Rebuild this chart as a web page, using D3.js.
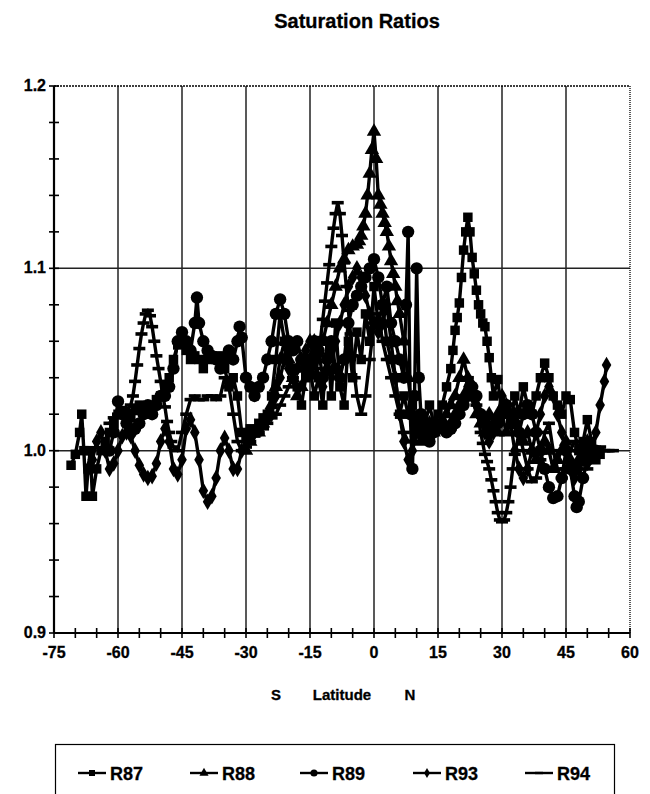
<!DOCTYPE html>
<html><head><meta charset="utf-8">
<script src="https://cdn.jsdelivr.net/npm/d3@7"></script>
<style>
body{margin:0;background:#fff;}
svg{display:block;}
text{font-family:"Liberation Sans",Arial,sans-serif;font-weight:bold;fill:#000;}
</style></head>
<body><svg id="c" width="650" height="794"></svg>
<script>
const title = "Saturation Ratios";
const xTicks = [-75,-60,-45,-30,-15,0,15,30,45,60];
const yTicks = [0.9,1.0,1.1,1.2];
const seriesNames = ["R87","R88","R89","R93","R94"];

const R87 = [[-71,0.992],[-70,0.998],[-69,1.01],[-68.5,1.02],[-68,1.0],[-67.5,0.975],[-67,0.99],[-66.5,1.0],[-66,0.975],[-65,0.99],[-64,1.0],[-63,1.005],[-62,1.01],[-61,1.015],[-60,1.02],[-59,1.022],[-58,1.02],[-57,1.018],[-56,1.022],[-55,1.025],[-54,1.02],[-53,1.022],[-52,1.025],[-51,1.028],[-50,1.03],[-49,1.035],[-48,1.04],[-47,1.05],[-46,1.058],[-45,1.062],[-44,1.055],[-43,1.05],[-42,1.052],[-41,1.05],[-40,1.045],[-39,1.05],[-38,1.052],[-37,1.05],[-36,1.052],[-35,1.045],[-34,1.035],[-33,1.04],[-32,1.03],[-31,1.01],[-30,1.008],[-29,1.012],[-28,1.01],[-27,1.015],[-26,1.018],[-25,1.02],[-24,1.03],[-23,1.05],[-22,1.075],[-21,1.06],[-20,1.055],[-19,1.045],[-18,1.035],[-17,1.025],[-16,1.04],[-15,1.045],[-14,1.03],[-13,1.04],[-12,1.025],[-11,1.06],[-10,1.03],[-9,1.07],[-8,1.035],[-7,1.025],[-6,1.06],[-5,1.04],[-4,1.065],[-3,1.05],[-2,1.075],[-1,1.06],[0,1.09],[1,1.07],[2,1.08],[3,1.06],[4,1.05],[5,1.04],[6,1.02],[7,1.03],[8,1.02],[9,1.025],[10,1.015],[11,1.02],[12,1.015],[13,1.025],[14,1.015],[15,1.02],[16,1.025],[17,1.035],[18,1.045],[18.5,1.055],[19,1.066],[19.5,1.073],[20,1.081],[20.5,1.095],[21,1.11],[21.5,1.12],[22,1.128],[22.5,1.12],[23,1.106],[23.5,1.097],[24,1.088],[24.5,1.08],[25,1.075],[25.5,1.07],[26,1.068],[26.5,1.06],[27,1.051],[27.5,1.04],[28,1.03],[29,1.039],[30,1.02],[31,1.025],[32,1.015],[33,1.03],[34,1.02],[35,1.035],[36,1.025],[37,1.02],[38,1.03],[39,1.04],[40,1.048],[41,1.04],[42,1.03],[43,1.025],[44,1.02],[45,1.03],[46,1.028],[47,1.01],[48,1.0],[49,1.005],[50,1.017],[51,1.005],[52,0.995],[53,0.998]];

const R88 = [[-30,1.0],[-29,1.005],[-28,1.01],[-27,1.01],[-26,1.015],[-25,1.02],[-24,1.025],[-23,1.035],[-22,1.05],[-21,1.06],[-20,1.05],[-19,1.04],[-18,1.03],[-17,1.035],[-16,1.045],[-15,1.05],[-14,1.06],[-13,1.055],[-12,1.06],[-11,1.07],[-10,1.08],[-9,1.09],[-8,1.1],[-7,1.105],[-6,1.11],[-5,1.112],[-4,1.113],[-3.5,1.115],[-3,1.118],[-2.5,1.123],[-2,1.13],[-1.5,1.14],[-1,1.152],[-0.5,1.165],[0,1.175],[0.5,1.16],[1,1.14],[1.5,1.135],[2,1.13],[2.5,1.125],[3,1.12],[3.5,1.112],[4,1.104],[4.5,1.097],[5,1.09],[5.5,1.082],[6,1.075],[7,1.06],[8,1.04],[9,1.02],[10,1.01],[11,1.005],[12,1.01],[13,1.015],[14,1.01],[15,1.012],[16,1.015],[17,1.02],[18,1.025],[19,1.03],[20,1.04],[21,1.05],[22,1.04],[23,1.03],[24,1.02],[25,1.015],[26,1.01],[27,1.02],[28,1.015],[29,1.01],[30,1.02],[31,1.01],[32,1.015],[33,1.02],[34,1.01],[35,1.005],[36,1.01],[37,1.0],[38,0.995],[39,1.0],[40,1.005],[41,1.0],[42,0.99],[43,0.995],[44,1.0],[45,1.005],[46,0.995],[47,0.99],[48,0.995],[49,1.0],[50,1.005],[51,1.0],[52,0.998]];

const R89 = [[-62,1.0],[-61,1.01],[-60,1.027],[-59,1.02],[-58,1.015],[-57,1.01],[-56,1.012],[-55,1.015],[-54,1.02],[-53,1.025],[-52,1.02],[-51,1.025],[-50,1.03],[-49,1.03],[-48,1.035],[-47,1.045],[-46,1.06],[-45,1.065],[-44,1.06],[-43,1.055],[-42,1.07],[-41.5,1.084],[-41,1.07],[-40,1.06],[-39,1.055],[-38,1.052],[-37,1.05],[-36,1.045],[-35,1.05],[-34,1.055],[-33,1.05],[-32,1.06],[-31.5,1.068],[-31,1.062],[-30,1.04],[-29,1.035],[-28,1.03],[-27,1.035],[-26,1.04],[-25,1.05],[-24,1.06],[-23,1.075],[-22,1.083],[-21,1.075],[-20,1.06],[-19,1.055],[-18,1.06],[-17,1.05],[-16,1.045],[-15,1.05],[-14,1.06],[-13,1.055],[-12,1.04],[-11,1.05],[-10,1.06],[-9,1.045],[-8,1.04],[-7,1.05],[-6,1.07],[-5,1.08],[-4,1.085],[-3,1.09],[-2,1.095],[-1,1.1],[0,1.105],[1,1.095],[2,1.08],[3,1.09],[4,1.07],[5,1.06],[6,1.05],[7,1.04],[7.5,1.08],[8,1.12],[8.5,1.02],[9,0.99],[9.5,1.03],[10,1.1],[10.5,1.04],[11,1.02],[12,1.01],[13,1.005],[14,1.01],[15,1.012],[16,1.015],[17,1.01],[18,1.012],[19,1.015],[20,1.02],[21,1.025],[22,1.03],[23,1.035],[24,1.03],[25,1.02],[26,1.015],[27,1.01],[28,1.012],[29,1.015],[30,1.02],[31,1.025],[32,1.02],[33,1.015],[34,1.01],[35,1.02],[36,1.025],[37,1.02],[38,1.01],[39,1.0],[40,0.99],[41,0.98],[42,0.974],[43,0.975],[44,0.985],[45,1.0],[46,0.99],[47,0.975],[47.5,0.969],[48,0.972],[49,0.985],[50,0.995],[51,1.0],[52,1.0]];

const R93 = [[-67,0.99],[-66,0.995],[-65,1.005],[-64,1.01],[-63,1.0],[-62,0.99],[-61,0.993],[-60,1.0],[-59,1.008],[-58,1.01],[-57,1.008],[-56,1.0],[-55,0.992],[-54,0.987],[-53,0.985],[-52,0.986],[-51,0.993],[-50,1.005],[-49,1.012],[-48,1.005],[-47,0.99],[-46,0.987],[-45,0.995],[-44,1.012],[-43,1.017],[-42,1.01],[-41,0.995],[-40,0.978],[-39,0.972],[-38,0.975],[-37,0.985],[-36,1.0],[-35,1.007],[-34,1.0],[-33,0.99],[-32,0.99],[-31,1.0],[-30,1.005],[-29,1.008],[-28,1.01],[-27,1.012],[-26,1.015],[-25,1.018],[-24,1.02],[-23,1.03],[-22,1.04],[-21,1.05],[-20,1.045],[-19,1.04],[-18,1.045],[-17,1.05],[-16,1.055],[-15,1.06],[-14,1.05],[-13,1.04],[-12,1.035],[-11,1.045],[-10,1.055],[-9,1.06],[-8,1.07],[-7,1.08],[-6,1.09],[-5,1.095],[-4,1.1],[-3,1.095],[-2,1.085],[-1,1.075],[0,1.07],[1,1.065],[2,1.07],[3,1.08],[4,1.06],[5,1.04],[6,1.02],[7,1.005],[8,0.995],[9,1.0],[10,1.01],[11,1.012],[12,1.01],[13,1.008],[14,1.01],[15,1.012],[16,1.015],[17,1.012],[18,1.015],[19,1.02],[20,1.025],[21,1.03],[22,1.035],[23,1.03],[24,1.025],[25,1.02],[26,1.01],[27,1.005],[28,1.01],[29,1.02],[30,1.03],[31,1.025],[32,1.015],[33,1.0],[34,0.99],[35,0.985],[36,0.99],[37,1.0],[38,1.01],[39,1.02],[40,1.03],[41,1.035],[42,1.03],[43,1.02],[44,1.01],[45,1.0],[46,0.99],[47,0.985],[48,0.99],[49,0.995],[50,1.0],[51,1.002],[52,1.01],[53,1.025],[54,1.038],[54.5,1.047]];

const R94 = [[-62,1.015],[-61,1.018],[-60,1.02],[-59,1.02],[-58,1.022],[-57,1.025],[-56.5,1.03],[-56,1.038],[-55.5,1.047],[-55,1.056],[-54.5,1.064],[-54,1.07],[-53.5,1.075],[-53,1.077],[-52.5,1.074],[-52,1.068],[-51.5,1.06],[-51,1.052],[-50.5,1.045],[-50,1.038],[-49.5,1.03],[-49,1.024],[-48.5,1.016],[-48,1.01],[-47.5,1.005],[-47,1.002],[-46,1.0],[-45,1.01],[-44,1.02],[-43,1.028],[-42,1.03],[-41,1.028],[-40,1.028],[-39,1.03],[-38,1.03],[-37,1.028],[-36,1.03],[-35,1.04],[-34,1.035],[-33,1.02],[-32,1.005],[-31,1.0],[-30,1.002],[-29,1.005],[-28,1.008],[-27,1.01],[-26,1.012],[-25,1.015],[-24,1.018],[-23,1.02],[-22,1.025],[-21,1.03],[-20,1.035],[-19,1.04],[-18,1.045],[-17,1.05],[-16,1.05],[-15,1.045],[-14,1.04],[-13.5,1.045],[-13,1.052],[-12.5,1.062],[-12,1.072],[-11.5,1.082],[-11,1.092],[-10.5,1.102],[-10,1.112],[-9.5,1.122],[-9,1.13],[-8.5,1.136],[-8,1.13],[-7.5,1.118],[-7,1.103],[-6.5,1.09],[-6,1.077],[-5.5,1.064],[-5,1.052],[-4.5,1.04],[-4,1.03],[-3,1.02],[-2,1.03],[-1,1.05],[0,1.07],[1,1.075],[2,1.06],[3,1.05],[4,1.04],[5,1.03],[6,1.02],[7,1.01],[8,1.005],[9,1.005],[10,1.01],[11,1.012],[12,1.01],[13,1.012],[14,1.015],[15,1.015],[16,1.012],[17,1.01],[18,1.012],[19,1.015],[20,1.02],[21,1.03],[22,1.04],[23,1.035],[24,1.025],[25,1.01],[25.5,1.004],[26,0.998],[26.5,0.994],[27,0.99],[27.5,0.984],[28,0.978],[28.5,0.972],[29,0.966],[29.5,0.962],[30,0.961],[30.5,0.962],[31,0.966],[31.5,0.972],[32,0.98],[32.5,0.99],[33,0.998],[34,1.01],[35,1.0],[36,0.99],[37,0.983],[38,0.985],[39,0.995],[40,1.01],[41,1.015],[42,1.0],[43,0.99],[44,0.985],[45,0.99],[46,1.0],[47,1.005],[48,1.0],[49,0.995],[50,0.99],[51,0.995],[52,1.0],[53,1.002],[54,1.0],[55,1.0],[56,1.0]];

const seriesData = [R87, R88, R89, R93, R94];
const markerTypes = ["square","triangle","circle","diamond","dash"];

const svg = d3.select("#c");
const L = 54, R = 630, T = 86, B = 633;
const x = d3.scaleLinear().domain([-75,60]).range([L,R]);
const y = d3.scaleLinear().domain([0.9,1.2]).range([B,T]);

svg.append("text").attr("x",357).attr("y",28).attr("text-anchor","middle")
  .style("font-size","20px").attr("stroke","#000").attr("stroke-width",0.3).text(title);

// gridlines
const g = svg.append("g");
g.selectAll(".vg").data(xTicks.filter(d=>d>-75 && d<60)).enter().append("line")
  .attr("x1",d=>x(d)).attr("x2",d=>x(d)).attr("y1",T).attr("y2",B)
  .attr("stroke","#222").attr("stroke-width",1.5);
g.selectAll(".hg").data([1.0,1.1]).enter().append("line")
  .attr("x1",L).attr("x2",R).attr("y1",d=>y(d)).attr("y2",d=>y(d))
  .attr("stroke","#222").attr("stroke-width",1.5);
g.append("line").attr("x1",L).attr("x2",R).attr("y1",T).attr("y2",T)
  .attr("stroke","#000").attr("stroke-width",1.3).attr("stroke-dasharray","2,1");
g.append("line").attr("x1",R).attr("x2",R).attr("y1",T).attr("y2",B)
  .attr("stroke","#000").attr("stroke-width",1.3).attr("stroke-dasharray","1,1");

// data
const line = d3.line().x(d=>x(d[0])).y(d=>y(d[1]));
const sym = {
  square: d3.symbol().type(d3.symbolSquare).size(90),
  triangle: d3.symbol().type(d3.symbolTriangle).size(90),
  circle: d3.symbol().type(d3.symbolCircle).size(120),
  diamond: d3.symbol().type(d3.symbolDiamond).size(80)
};
const symLeg = {
  square: d3.symbol().type(d3.symbolSquare).size(36),
  triangle: d3.symbol().type(d3.symbolTriangle).size(36),
  circle: d3.symbol().type(d3.symbolCircle).size(40),
  diamond: d3.symbol().type(d3.symbolDiamond).size(30)
};
function drawMarker(sel, type, leg){
  if(type==="dash"){
    if(leg) sel.append("rect").attr("x",-4).attr("y",-1.2).attr("width",8).attr("height",2.4).attr("fill","#000");
    else sel.append("rect").attr("x",-6).attr("y",-1.8).attr("width",12).attr("height",3.6).attr("fill","#000");
  } else {
    sel.append("path").attr("d",(leg?symLeg:sym)[type]()).attr("fill","#000");
  }
}
seriesData.forEach((s,i)=>{
  const gs = svg.append("g");
  gs.append("path").datum(s).attr("d",line).attr("fill","none")
    .attr("stroke","#000").attr("stroke-width",3.4).attr("stroke-linejoin","round");
  gs.selectAll("g.m").data(s).enter().append("g")
    .attr("transform",d=>`translate(${x(d[0])},${y(d[1])})`)
    .each(function(){ drawMarker(d3.select(this), markerTypes[i], false); });
});

// axes
svg.append("line").attr("x1",L).attr("x2",R).attr("y1",B).attr("y2",B).attr("stroke","#000").attr("stroke-width",2);
svg.append("g").selectAll("line").data(d3.range(-75,61,5)).enter().append("line")
  .attr("x1",d=>x(d)).attr("x2",d=>x(d)).attr("y1",B-5).attr("y2",B+5)
  .attr("stroke","#000").attr("stroke-width",1.6);
svg.append("line").attr("x1",L).attr("x2",L).attr("y1",T).attr("y2",B).attr("stroke","#000").attr("stroke-width",2.2);
svg.append("g").selectAll("line").data(d3.range(0,16).map(i=>0.9+i*0.02)).enter().append("line")
  .attr("x1",L-5).attr("x2",L+5).attr("y1",d=>y(d)).attr("y2",d=>y(d))
  .attr("stroke","#000").attr("stroke-width",1.6);

svg.append("g").selectAll("text").data(xTicks).enter().append("text")
  .attr("x",d=>x(d)).attr("y",B+25).attr("text-anchor","middle")
  .style("font-size","16px").attr("stroke","#000").attr("stroke-width",0.3).text(d=>d);
svg.append("g").selectAll("text").data(yTicks).enter().append("text")
  .attr("x",L-8).attr("y",d=>y(d)+5).attr("text-anchor","end")
  .style("font-size","16px").attr("stroke","#000").attr("stroke-width",0.3).text(d=>d.toFixed(1));

[["S",276],["Latitude",342],["N",410]].forEach(([t,px])=>{
  svg.append("text").attr("x",px).attr("y",700).attr("text-anchor","middle")
    .style("font-size","15px").attr("stroke","#000").attr("stroke-width",0.3).text(t);
});

// legend
svg.append("rect").attr("x",55.5).attr("y",744.5).attr("width",559).attr("height",70)
  .attr("fill","none").attr("stroke","#000").attr("stroke-width",1.2);
const legX = [78,190,300,413,525];
seriesNames.forEach((n,i)=>{
  const lg = svg.append("g").attr("transform",`translate(${legX[i]},773)`);
  lg.append("line").attr("x1",0).attr("x2",28).attr("y1",0).attr("y2",0).attr("stroke","#000").attr("stroke-width",2.4);
  const m = lg.append("g").attr("transform","translate(14,0)");
  drawMarker(m, markerTypes[i], true);
  lg.append("text").attr("x",32).attr("y",6.5).style("font-size","18px")
    .attr("stroke","#000").attr("stroke-width",0.3).text(n);
});
</script></body></html>
